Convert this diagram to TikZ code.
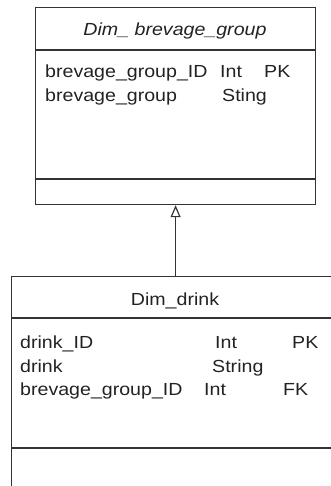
\documentclass[tikz,border=0pt]{standalone}
\usepackage{fontspec}
\setmainfont{Liberation Sans}[FakeStretch=1.12]
\usetikzlibrary{arrows.meta}
\definecolor{ink}{HTML}{222222}
\definecolor{edge}{HTML}{333333}
\begin{document}
\begin{tikzpicture}[x=1pt, y=-1pt,
  classbox/.style={draw=edge, line width=1.2pt, inner sep=0pt, anchor=north west},
  rule/.style={draw=edge, line width=1.2pt},
  txt/.style={inner sep=0pt, anchor=base west, text=ink, font=\fontsize{17.5}{21}\selectfont},
  ttl/.style={inner sep=0pt, anchor=base, text=ink, font=\fontsize{17.5}{21}\selectfont},
  inherit/.style={draw=edge, line width=1.2pt, -{Triangle[open, length=12pt, width=10pt, line width=1.2pt]}}
]
\useasboundingbox (0,0) rectangle (331,486);

% class Dim_ brevage_group
\node[classbox, minimum width=280pt, minimum height=197pt] (grp) at (35,7) {};
\draw[rule] (35,50) -- (315,50);
\draw[rule] (35,179) -- (315,179);
\node[ttl, font=\fontsize{17.5}{21}\selectfont\itshape] (grptitle) at (175,36) {Dim\_ brevage\_group};
\node[txt] (g1n) at (45,78) {brevage\_group\_ID};
\node[txt] (g1t) at (220,78) {Int};
\node[txt] (g1k) at (264,78) {PK};
\node[txt] (g2n) at (45,102) {brevage\_group};
\node[txt] (g2t) at (222,102) {Sting};

% class Dim_drink
\node[classbox, minimum width=328pt, minimum height=230pt] (drink) at (11,276) {};
\draw[rule] (11,318) -- (339,318);
\draw[rule] (11,448) -- (339,448);
\node[ttl] (drinktitle) at (175,305) {Dim\_drink};
\node[txt] (d1n) at (20,348) {drink\_ID};
\node[txt] (d1t) at (215,348) {Int};
\node[txt] (d1k) at (292,348) {PK};
\node[txt] (d2n) at (20,372) {drink};
\node[txt] (d2t) at (212,372) {String};
\node[txt] (d3n) at (20,395) {brevage\_group\_ID};
\node[txt] (d3t) at (204,395) {Int};
\node[txt] (d3k) at (283,395) {FK};

% generalisation
\draw[inherit] (drink.north) -- (grp.south);
\end{tikzpicture}
\end{document}
